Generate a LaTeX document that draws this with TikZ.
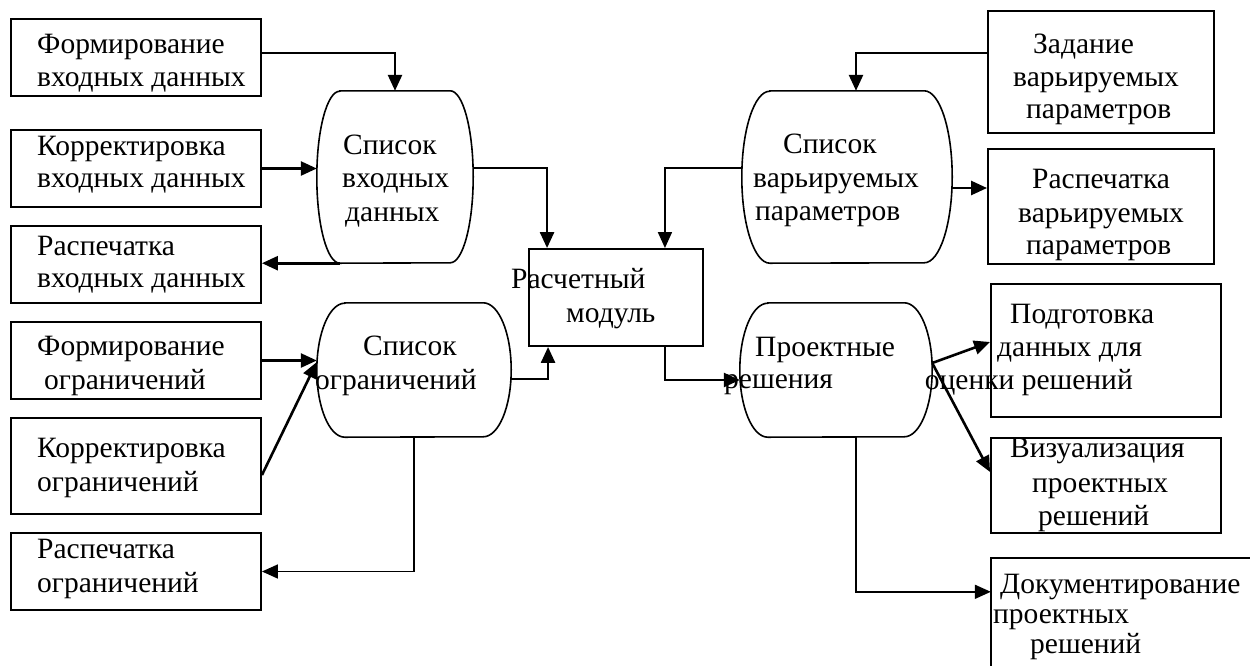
\documentclass[tikz,border=0pt]{standalone}
\usepackage{fontspec}
\setmainfont{Liberation Serif}
\usetikzlibrary{arrows.meta}
\begin{document}
\begin{tikzpicture}[x=1pt,y=-1pt,
  box/.style={draw, line width=1.9pt, inner sep=0},
  boxline/.style={line width=1.9pt},
  hold/.style={draw=none, inner sep=0},
  dline/.style={line width=1.6pt},
  conn/.style={line width=2.6pt, -{Triangle[length=16pt,width=14pt]}},
  thinconn/.style={line width=1.7pt, -{Triangle[length=16pt,width=14pt]}},
  lbl/.style={inner sep=0, anchor=base west, font=\fontsize{29.5}{33}\selectfont},
  lble/.style={lbl, anchor=base east}]
\fill[white] (0,0) rectangle (1250,665);
\useasboundingbox (0,0) rectangle (1250,665);

% left boxes
\node[box, minimum width=250pt, minimum height=77pt] (f1) at (136,57.5) {};
\node[box, minimum width=250pt, minimum height=77pt] (k1) at (136,168.5) {};
\node[box, minimum width=250pt, minimum height=77pt] (r1) at (136,264.5) {};
\node[box, minimum width=250pt, minimum height=77pt] (fo) at (136,360.5) {};
\node[box, minimum width=250pt, minimum height=96pt] (ko) at (136,466) {};
\node[box, minimum width=250pt, minimum height=77pt] (ro) at (136,571.5) {};

% module
\node[box, minimum width=174pt, minimum height=97pt] (m) at (616,297.5) {};

% right boxes
\node[box, minimum width=226pt, minimum height=122pt] (z) at (1101,72) {};
\node[box, minimum width=226pt, minimum height=115pt] (pv) at (1101,206.5) {};
\node[box, minimum width=230pt, minimum height=133pt] (pd) at (1106,350.5) {};
\node[box, minimum width=230pt, minimum height=95pt] (vz) at (1106,485.5) {};
\begin{scope}
\clip (0,0) rectangle (1250,665);
\node[hold, minimum width=271pt, minimum height=142pt] (doc) at (1126.5,629) {};
\draw[boxline] (doc.north east) -- (doc.north west) -- (doc.south west);
\end{scope}

% data shapes
\node[hold, minimum width=156pt, minimum height=172pt] (s1) at (395,177) {};
\draw[dline] ([xshift=23pt]s1.north west) -- ([xshift=-23pt]s1.north east)
  arc[start angle=90, end angle=-90, x radius=23pt, y radius=86pt]
  -- ([xshift=23pt]s1.south west)
  arc[start angle=270, end angle=90, x radius=23pt, y radius=86pt] -- cycle;
\node[hold, minimum width=194pt, minimum height=134pt] (s2) at (414,370) {};
\draw[dline] ([xshift=28pt]s2.north west) -- ([xshift=-28pt]s2.north east)
  arc[start angle=90, end angle=-90, x radius=28pt, y radius=67pt]
  -- ([xshift=28pt]s2.south west)
  arc[start angle=270, end angle=90, x radius=28pt, y radius=67pt] -- cycle;
\node[hold, minimum width=210pt, minimum height=172pt] (s3) at (847,177) {};
\draw[dline] ([xshift=28pt]s3.north west) -- ([xshift=-28pt]s3.north east)
  arc[start angle=90, end angle=-90, x radius=28pt, y radius=86pt]
  -- ([xshift=28pt]s3.south west)
  arc[start angle=270, end angle=90, x radius=28pt, y radius=86pt] -- cycle;
\node[hold, minimum width=192pt, minimum height=134pt] (s4) at (836,370) {};
\draw[dline] ([xshift=28pt]s4.north west) -- ([xshift=-28pt]s4.north east)
  arc[start angle=90, end angle=-90, x radius=28pt, y radius=67pt]
  -- ([xshift=28pt]s4.south west)
  arc[start angle=270, end angle=90, x radius=28pt, y radius=67pt] -- cycle;

% connectors
\draw[conn] ([yshift=4.5pt]f1.east) -| (s1.north);
\draw[conn] (k1.east) -- (k1.east -| s1.west);
\draw[conn] ([xshift=23pt]s1.south west) -- (r1.east |- s1.south);
\draw[conn] ([yshift=9pt]s1.east) -| ([xshift=19pt]m.north west);
\draw[conn] (fo.east) -- (fo.east -| s2.west);
\draw[conn] ([yshift=-9pt]ko.east) -- ([yshift=8pt]s2.west);
\draw[thinconn] (s2.south) |- (ro.east);
\draw[conn] ([yshift=-9pt]s2.east) -| ([xshift=20pt]m.south west);
\draw[thinconn] ([yshift=9pt]s3.west) -| ([xshift=-39pt]m.north east);
\draw[conn] ([yshift=19pt]z.west) -| ([xshift=9pt]s3.north);
\draw[conn] ([yshift=-11pt]s3.east) -- ([yshift=18.5pt]pv.west);
\draw[conn] ([xshift=-39pt]m.south east) |- ([yshift=-10pt]s4.west);
\draw[conn] ([yshift=7pt]s4.east) -- ([yshift=8.5pt]pd.west);
\draw[conn] ([yshift=7pt]s4.east) -- ([yshift=13.5pt]vz.west);
\draw[thinconn] ([xshift=20pt]s4.south) |- ([yshift=-34pt]doc.north west);

% labels
\node[lbl] (tf1a) at (37,53) {Формирование};
\node[lbl] (tf1b) at (37,86) {входных данных};
\node[lbl] (tk1a) at (37,155) {Корректировка};
\node[lbl] (tk1b) at (37,187) {входных данных};
\node[lbl] (tr1a) at (37,255) {Распечатка};
\node[lbl] (tr1b) at (37,287) {входных данных};
\node[lbl] (tfoa) at (37,355) {Формирование};
\node[lbl] (tfob) at (44,389) {ограничений};
\node[lbl] (tkoa) at (37,457) {Корректировка};
\node[lbl] (tkob) at (37,491) {ограничений};
\node[lbl] (troa) at (37,558) {Распечатка};
\node[lbl] (trob) at (37,592) {ограничений};
\node[lbl] (ts1a) at (343,154) {Список};
\node[lbl] (ts1b) at (342,187) {входных};
\node[lbl] (ts1c) at (345,221) {данных};
\node[lbl] (ts2a) at (363,355) {Список};
\node[lbl] (ts2b) at (315,389) {ограничений};
\node[lbl] (tma) at (511,288) {Расчетный};
\node[lbl] (tmb) at (566,322) {модуль};
\node[lbl] (ts3a) at (783,153) {Список};
\node[lbl] (ts3b) at (753,187) {варьируемых};
\node[lbl] (ts3c) at (755,220) {параметров};
\node[lbl] (ts4a) at (755,356) {Проектные};
\node[lbl] (ts4b) at (724,388) {решения};
\node[lbl] (tza) at (1033,53) {Задание};
\node[lbl] (tzb) at (1013,86) {варьируемых};
\node[lbl] (tzc) at (1026,118) {параметров};
\node[lbl] (tpva) at (1032,188) {Распечатка};
\node[lbl] (tpvb) at (1018,222) {варьируемых};
\node[lbl] (tpvc) at (1026,254) {параметров};
\node[lbl] (tpda) at (1010,323) {Подготовка};
\node[lbl] (tpdb) at (997,356) {данных для};
\node[lble] (tpdc) at (1133,389) {оценки решений};
\node[lbl] (tvza) at (1010,457) {Визуализация};
\node[lbl] (tvzb) at (1032,492) {проектных};
\node[lbl] (tvzc) at (1038,525) {решений};
\node[lbl] (tdca) at (1000,593) {Документирование};
\node[lbl] (tdcb) at (993,623) {проектных};
\node[lbl] (tdcc) at (1030,653) {решений};
\end{tikzpicture}
\end{document}
